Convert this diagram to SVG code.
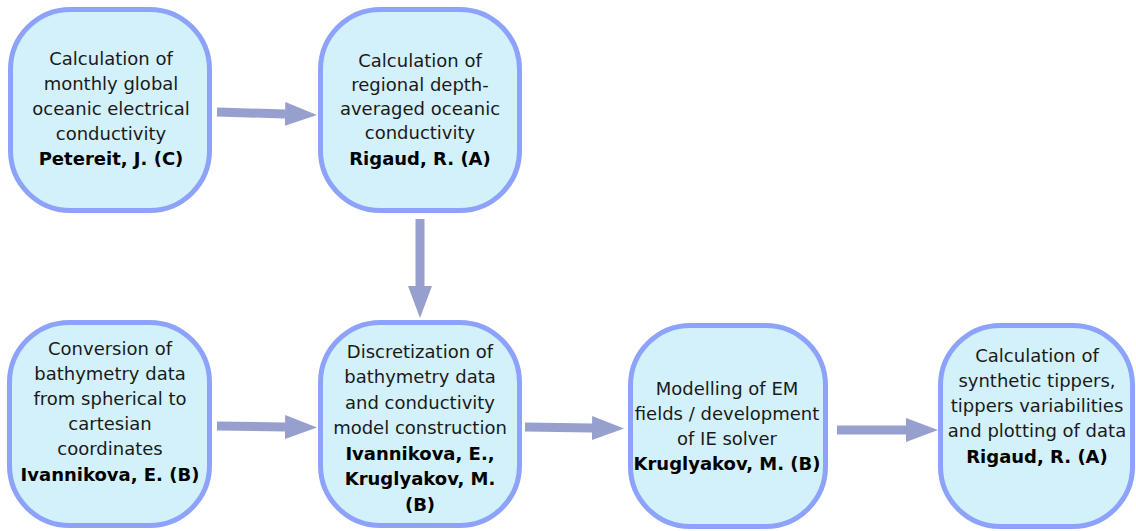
<svg xmlns="http://www.w3.org/2000/svg" width="1136" height="531" viewBox="0 0 1136 531">
<defs>
<style>
.box{fill:#d3f1fa;stroke:#8da2fa;stroke-width:5}
.t{font-family:"DejaVu Sans",sans-serif;font-size:18px;fill:#1a1a1a;text-anchor:middle}
.b{font-weight:bold;fill:#000}
.c{stroke:#979fcf;stroke-width:9;fill:none;marker-end:url(#ah)}
</style>
<marker id="ah" markerUnits="userSpaceOnUse" markerWidth="32" markerHeight="24" refX="0" refY="12" orient="auto" viewBox="0 0 32 24">
<path d="M0,0 L32,12 L0,24 Z" fill="#979fcf"/>
</marker>
</defs>
<rect width="1136" height="531" fill="#fff"/>
<g id="connectors">
<line class="c" x1="217" y1="112" x2="285" y2="114"/>
<line class="c" x1="420" y1="219" x2="420" y2="286"/>
<line class="c" x1="217" y1="426" x2="285" y2="427"/>
<line class="c" x1="525" y1="427" x2="592" y2="428"/>
<line class="c" x1="837" y1="430" x2="906" y2="430"/>
</g>
<g id="n1">
<rect class="box" x="10.5" y="9.5" width="199" height="201" rx="60"/>
<text class="t" x="111" y="65">Calculation of</text>
<text class="t" x="111" y="90">monthly global</text>
<text class="t" x="111" y="115">oceanic electrical</text>
<text class="t" x="111" y="140">conductivity</text>
<text class="t b" x="111" y="165">Petereit, J. (C)</text>
</g>
<g id="n2">
<rect class="box" x="320.5" y="9.5" width="199" height="201" rx="60"/>
<text class="t" x="420" y="67">Calculation of</text>
<text class="t" x="420" y="91">regional depth-</text>
<text class="t" x="420" y="115">averaged oceanic</text>
<text class="t" x="420" y="139">conductivity</text>
<text class="t b" x="420" y="165">Rigaud, R. (A)</text>
</g>
<g id="n3">
<rect class="box" x="9.5" y="322.5" width="200" height="203" rx="60"/>
<text class="t" x="110" y="355">Conversion of</text>
<text class="t" x="110" y="380">bathymetry data</text>
<text class="t" x="110" y="405">from spherical to</text>
<text class="t" x="110" y="430">cartesian</text>
<text class="t" x="110" y="455">coordinates</text>
<text class="t b" x="110" y="481">Ivannikova, E. (B)</text>
</g>
<g id="n4">
<rect class="box" x="320.5" y="322.5" width="199" height="203" rx="60"/>
<text class="t" x="420" y="358">Discretization of</text>
<text class="t" x="420" y="383">bathymetry data</text>
<text class="t" x="420" y="409">and conductivity</text>
<text class="t" x="420" y="434">model construction</text>
<text class="t b" x="420" y="460">Ivannikova, E.,</text>
<text class="t b" x="420" y="485">Kruglyakov, M.</text>
<text class="t b" x="420" y="511">(B)</text>
</g>
<g id="n5">
<rect class="box" x="630.5" y="325.5" width="195" height="201" rx="60"/>
<text class="t" x="727" y="395">Modelling of EM</text>
<text class="t" x="727" y="420">fields / development</text>
<text class="t" x="727" y="445">of IE solver</text>
<text class="t b" x="727" y="470">Kruglyakov, M. (B)</text>
</g>
<g id="n6">
<rect class="box" x="940.5" y="325.5" width="192" height="201" rx="60"/>
<text class="t" x="1037" y="362">Calculation of</text>
<text class="t" x="1037" y="387">synthetic tippers,</text>
<text class="t" x="1037" y="412">tippers variabilities</text>
<text class="t" x="1037" y="437">and plotting of data</text>
<text class="t b" x="1037" y="463">Rigaud, R. (A)</text>
</g>
</svg>
